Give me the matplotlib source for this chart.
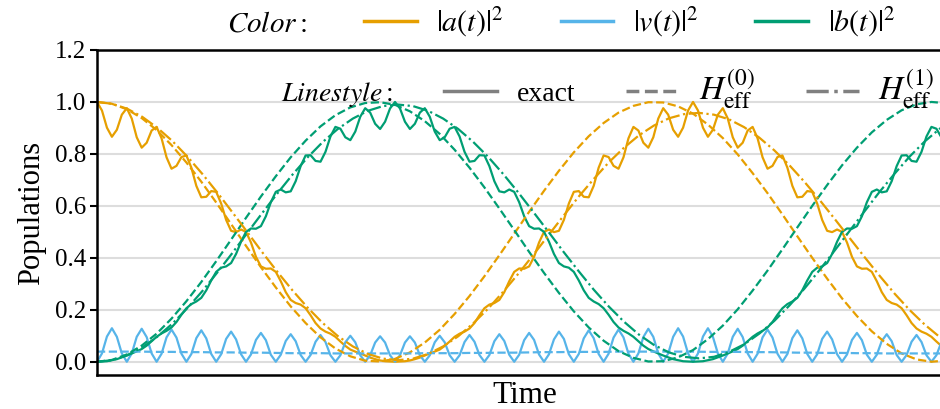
import numpy as np
import matplotlib
matplotlib.use("Agg")
import matplotlib.pyplot as plt
from matplotlib.lines import Line2D

plt.rcParams['font.family'] = ['Liberation Serif', 'DejaVu Serif']
plt.rcParams['mathtext.fontset'] = 'stix'

# ---------------- data ----------------
dt_exact = 1 / 6      # sample spacing of the exact curves (time units)
dt_eff0 = 0.5         # sample spacing of the H_eff^(0) curves
dt_eff1 = 0.505       # sample spacing of the H_eff^(1) curves

a_exact = [
    1.000, 0.967, 0.901, 0.866, 0.893, 0.951, 0.976, 0.936, 0.864, 0.824,
    0.843, 0.890, 0.904, 0.860, 0.787, 0.743, 0.754, 0.788, 0.794, 0.747,
    0.677, 0.633, 0.635, 0.657, 0.654, 0.609, 0.546, 0.504, 0.499, 0.509,
    0.500, 0.459, 0.404, 0.367, 0.358, 0.359, 0.346, 0.310, 0.268, 0.238,
    0.226, 0.220, 0.206, 0.179, 0.149, 0.128, 0.116, 0.108, 0.096, 0.078,
    0.061, 0.047, 0.039, 0.032, 0.024, 0.016, 0.010, 0.005, 0.002, 0.001,
    0.000,
    0.001, 0.002, 0.005, 0.010, 0.016, 0.024, 0.032, 0.039, 0.047, 0.061,
    0.078, 0.096, 0.108, 0.116, 0.128, 0.149, 0.179, 0.206, 0.220, 0.226,
    0.238, 0.268, 0.310, 0.346, 0.359, 0.358, 0.367, 0.404, 0.459, 0.500,
    0.509, 0.499, 0.504, 0.546, 0.609, 0.654, 0.657, 0.635, 0.633, 0.677,
    0.747, 0.794, 0.788, 0.754, 0.743, 0.787, 0.860, 0.904, 0.890, 0.843,
    0.824, 0.864, 0.936, 0.976, 0.951, 0.893, 0.866, 0.901, 0.967, 1.000,
    0.967, 0.901, 0.866, 0.893, 0.951, 0.976, 0.936, 0.864, 0.824, 0.843,
    0.890, 0.904, 0.860, 0.787, 0.743, 0.754, 0.788, 0.794, 0.747, 0.677,
    0.633, 0.635, 0.657, 0.654, 0.609, 0.546, 0.504, 0.499, 0.509, 0.500,
    0.459, 0.404, 0.367, 0.358, 0.359, 0.346, 0.310, 0.268, 0.238, 0.226,
    0.220, 0.206, 0.179, 0.149, 0.128, 0.116, 0.108, 0.096, 0.078, 0.061,
    0.047, 0.039, 0.032,
]

b_exact = [
    0.000, 0.001, 0.002, 0.006, 0.010, 0.017, 0.024, 0.032, 0.040, 0.049,
    0.062, 0.079, 0.096, 0.109, 0.119, 0.132, 0.153, 0.181, 0.206, 0.222,
    0.232, 0.246, 0.275, 0.313, 0.346, 0.362, 0.367, 0.380, 0.415, 0.462,
    0.500, 0.513, 0.512, 0.522, 0.560, 0.614, 0.654, 0.663, 0.652, 0.656,
    0.695, 0.753, 0.794, 0.795, 0.773, 0.770, 0.808, 0.867, 0.904, 0.897,
    0.864, 0.853, 0.886, 0.943, 0.976, 0.959, 0.916, 0.896, 0.924, 0.975,
    1.000,
    0.975, 0.924, 0.896, 0.916, 0.959, 0.976, 0.943, 0.886, 0.853, 0.864,
    0.897, 0.904, 0.867, 0.808, 0.770, 0.773, 0.795, 0.794, 0.753, 0.695,
    0.656, 0.652, 0.663, 0.654, 0.614, 0.560, 0.522, 0.512, 0.513, 0.500,
    0.462, 0.415, 0.380, 0.367, 0.362, 0.346, 0.313, 0.275, 0.246, 0.232,
    0.222, 0.206, 0.181, 0.153, 0.132, 0.119, 0.109, 0.096, 0.079, 0.062,
    0.049, 0.040, 0.032, 0.024, 0.017, 0.010, 0.006, 0.002, 0.001, 0.000,
    0.001, 0.002, 0.006, 0.010, 0.017, 0.024, 0.032, 0.040, 0.049, 0.062,
    0.079, 0.096, 0.109, 0.119, 0.132, 0.153, 0.181, 0.206, 0.222, 0.232,
    0.246, 0.275, 0.313, 0.346, 0.362, 0.367, 0.380, 0.415, 0.462, 0.500,
    0.513, 0.512, 0.522, 0.560, 0.614, 0.654, 0.663, 0.652, 0.656, 0.695,
    0.753, 0.794, 0.795, 0.773, 0.770, 0.808, 0.867, 0.904, 0.897, 0.864,
    0.853, 0.886, 0.943,
]

v_exact = [
    0.000, 0.032, 0.097, 0.129, 0.096, 0.032, 0.000, 0.032, 0.096, 0.127,
    0.095, 0.032, 0.000, 0.031, 0.094, 0.124, 0.093, 0.031, 0.000, 0.030,
    0.091, 0.121, 0.090, 0.030, 0.000, 0.029, 0.088, 0.116, 0.086, 0.029,
    0.000, 0.028, 0.084, 0.111, 0.083, 0.027, 0.000, 0.027, 0.080, 0.106,
    0.079, 0.026, 0.000, 0.026, 0.077, 0.103, 0.076, 0.025, 0.000, 0.025,
    0.075, 0.100, 0.075, 0.025, 0.000, 0.025, 0.074, 0.098, 0.074, 0.025,
    0.000,
    0.025, 0.074, 0.098, 0.074, 0.025, 0.000, 0.025, 0.075, 0.100, 0.075,
    0.025, 0.000, 0.025, 0.076, 0.103, 0.077, 0.026, 0.000, 0.026, 0.079,
    0.106, 0.080, 0.027, 0.000, 0.027, 0.083, 0.111, 0.084, 0.028, 0.000,
    0.029, 0.086, 0.116, 0.088, 0.029, 0.000, 0.030, 0.090, 0.121, 0.091,
    0.030, 0.000, 0.031, 0.093, 0.124, 0.094, 0.031, 0.000, 0.032, 0.095,
    0.127, 0.096, 0.032, 0.000, 0.032, 0.096, 0.129, 0.097, 0.032, 0.000,
    0.032, 0.097, 0.129, 0.096, 0.032, 0.000, 0.032, 0.096, 0.127, 0.095,
    0.032, 0.000, 0.031, 0.094, 0.124, 0.093, 0.031, 0.000, 0.030, 0.091,
    0.121, 0.090, 0.030, 0.000, 0.029, 0.088, 0.116, 0.086, 0.029, 0.000,
    0.028, 0.084, 0.111, 0.083, 0.027, 0.000, 0.027, 0.080, 0.106, 0.079,
    0.026, 0.000, 0.026, 0.077, 0.103, 0.076, 0.025, 0.000, 0.025, 0.075,
    0.100, 0.075, 0.025,
]

a_eff0 = [
    1.000, 0.993, 0.972, 0.938, 0.892, 0.834, 0.767, 0.693, 0.613, 0.530,
    0.446, 0.364, 0.286, 0.213, 0.149, 0.094, 0.051, 0.021, 0.004, 0.001,
    0.011, 0.036, 0.074, 0.123, 0.184, 0.253, 0.329, 0.410, 0.493, 0.577,
    0.658, 0.735, 0.806, 0.868, 0.919, 0.959, 0.985, 0.999, 0.998, 0.983,
    0.955, 0.913, 0.861, 0.798, 0.726, 0.649, 0.567, 0.483, 0.400, 0.320,
    0.244, 0.176, 0.117, 0.069, 0.032, 0.009, 0.000, 0.005, 0.024,
]
b_eff0 = [
    0.000, 0.007, 0.028, 0.062, 0.108, 0.166, 0.233, 0.307, 0.387, 0.470,
    0.554, 0.636, 0.714, 0.787, 0.851, 0.906, 0.949, 0.979, 0.996, 0.999,
    0.989, 0.964, 0.926, 0.877, 0.816, 0.747, 0.671, 0.590, 0.507, 0.423,
    0.342, 0.265, 0.194, 0.132, 0.081, 0.041, 0.015, 0.001, 0.002, 0.017,
    0.045, 0.087, 0.139, 0.202, 0.274, 0.351, 0.433, 0.517, 0.600, 0.680,
    0.756, 0.824, 0.883, 0.931, 0.968, 0.991, 1.000, 0.995, 0.976,
]
v_eff0 = [
    0.039, 0.039, 0.039, 0.039, 0.038, 0.038, 0.037, 0.037, 0.036, 0.036,
    0.035, 0.035, 0.034, 0.033, 0.033, 0.033, 0.032, 0.032, 0.032, 0.032,
    0.032, 0.032, 0.033, 0.033, 0.033, 0.034, 0.034, 0.035, 0.035, 0.036,
    0.037, 0.037, 0.038, 0.038, 0.038, 0.039, 0.039, 0.039, 0.039, 0.039,
    0.039, 0.038, 0.038, 0.038, 0.037, 0.037, 0.036, 0.035, 0.035, 0.034,
    0.034, 0.033, 0.033, 0.032, 0.032, 0.032, 0.032, 0.032, 0.032,
]
a_eff1 = [
    1.000, 0.993, 0.974, 0.943, 0.901, 0.850, 0.790, 0.723, 0.651, 0.575,
    0.498, 0.420, 0.345, 0.274, 0.208, 0.149, 0.099, 0.059, 0.030, 0.012,
    0.006, 0.012, 0.030, 0.059, 0.098, 0.148, 0.205, 0.270, 0.339, 0.412,
    0.487, 0.562, 0.635, 0.703, 0.767, 0.823, 0.871, 0.909, 0.937, 0.953,
    0.958, 0.951, 0.933, 0.903, 0.863, 0.814, 0.757, 0.693, 0.624, 0.551,
    0.477, 0.403, 0.331, 0.262, 0.199, 0.143, 0.095, 0.057,
]
b_eff1 = [
    0.000, 0.006, 0.025, 0.055, 0.096, 0.146, 0.206, 0.272, 0.344, 0.419,
    0.497, 0.574, 0.649, 0.721, 0.787, 0.846, 0.896, 0.936, 0.966, 0.984,
    0.990, 0.984, 0.966, 0.936, 0.896, 0.846, 0.788, 0.722, 0.651, 0.576,
    0.500, 0.423, 0.349, 0.278, 0.213, 0.155, 0.105, 0.065, 0.036, 0.019,
    0.013, 0.019, 0.038, 0.067, 0.108, 0.157, 0.216, 0.281, 0.352, 0.427,
    0.503, 0.579, 0.654, 0.724, 0.790, 0.848, 0.897, 0.937,
]

y_ticks = [0.0, 0.2, 0.4, 0.6, 0.8, 1.0, 1.2]
y_tick_labels = ["0.0", "0.2", "0.4", "0.6", "0.8", "1.0", "1.2"]
color_title = r"$Color:$"
style_title = r"$Linestyle:$"
color_labels = [r"$|a(t)|^2$", r"$|v(t)|^2$", r"$|b(t)|^2$"]
style_labels = ["exact", r"$H_{\mathrm{eff}}^{(0)}$", r"$H_{\mathrm{eff}}^{(1)}$"]

# ---------------- styles ----------------
C_A = "#E69F00"
C_V = "#56B4E9"
C_B = "#009E73"
GRAY = "#808080"
LW = 1.6

t_exact = np.arange(len(a_exact)) * dt_exact
t_eff0 = np.arange(len(a_eff0)) * dt_eff0
t_eff1 = np.arange(len(a_eff1)) * dt_eff1

fig = plt.figure(figsize=(9.4, 4.09), dpi=100)
ax = fig.add_axes([97 / 940, 34 / 409, 855 / 940, 325 / 409])

# exact
ax.plot(t_exact, a_exact, color=C_A, lw=LW, ls="-")
ax.plot(t_exact, v_exact, color=C_V, lw=LW, ls="-")
ax.plot(t_exact, b_exact, color=C_B, lw=LW, ls="-")
# H_eff^(0)
ax.plot(t_eff0, a_eff0, color=C_A, lw=LW, ls="--")
ax.plot(t_eff0, v_eff0, color=C_V, lw=LW, ls="--")
ax.plot(t_eff0, b_eff0, color=C_B, lw=LW, ls="--")
# H_eff^(1)
ax.plot(t_eff1, a_eff1, color=C_A, lw=LW, ls="-.")
ax.plot(t_eff1, b_eff1, color=C_B, lw=LW, ls="-.")

ax.set_xlim(0, 28.69)
ax.set_ylim(-0.051, 1.2)
ax.set_xticks([])
ax.set_yticks(y_ticks)
ax.set_yticklabels(y_tick_labels)
ax.yaxis.grid(True, color="#dddddd", lw=1.5)
ax.set_axisbelow(True)
for side in ("left", "bottom", "top"):
    ax.spines[side].set_linewidth(1.8)
    ax.spines[side].set_color("black")
ax.spines["right"].set_visible(False)
ax.tick_params(axis="y", length=5, width=1.5, labelsize=18, pad=3)

ax.set_ylabel("Populations", fontsize=22, labelpad=6)
ax.set_xlabel("Time", fontsize=22.5, labelpad=4)

# legends
h1 = [Line2D([], [], ls="none", label=color_title)]
for c, lab in zip((C_A, C_V, C_B), color_labels):
    h1.append(Line2D([], [], color=c, lw=2.5, label=lab))
leg1 = ax.legend(handles=h1, ncol=4, loc="center left",
                 bbox_to_anchor=(0.165, 1 - 22 / 409), bbox_transform=fig.transFigure,
                 frameon=False, fontsize=20, handlelength=1.9, handletextpad=0.7,
                 columnspacing=2.05, borderpad=0, borderaxespad=0)
leg1.get_texts()[0].set_fontsize(21)
for txt in leg1.get_texts()[1:]:
    txt.set_fontsize(21.5)
ax.add_artist(leg1)

h2 = [Line2D([], [], ls="none", label=style_title)]
for ls, lab in zip(("-", "--", "-."), style_labels):
    h2.append(Line2D([], [], color=GRAY, lw=2.5, ls=ls, label=lab))
leg2 = ax.legend(handles=h2, ncol=4, loc="center left",
                 bbox_to_anchor=(0.2221, 1 - 90 / 409), bbox_transform=fig.transFigure,
                 frameon=False, fontsize=20, handlelength=1.9, handletextpad=0.7,
                 columnspacing=1.85, borderpad=0, borderaxespad=0)
for txt in leg2.get_texts()[2:]:
    txt.set_fontsize(24)

fig.savefig("out.png", dpi=100)
